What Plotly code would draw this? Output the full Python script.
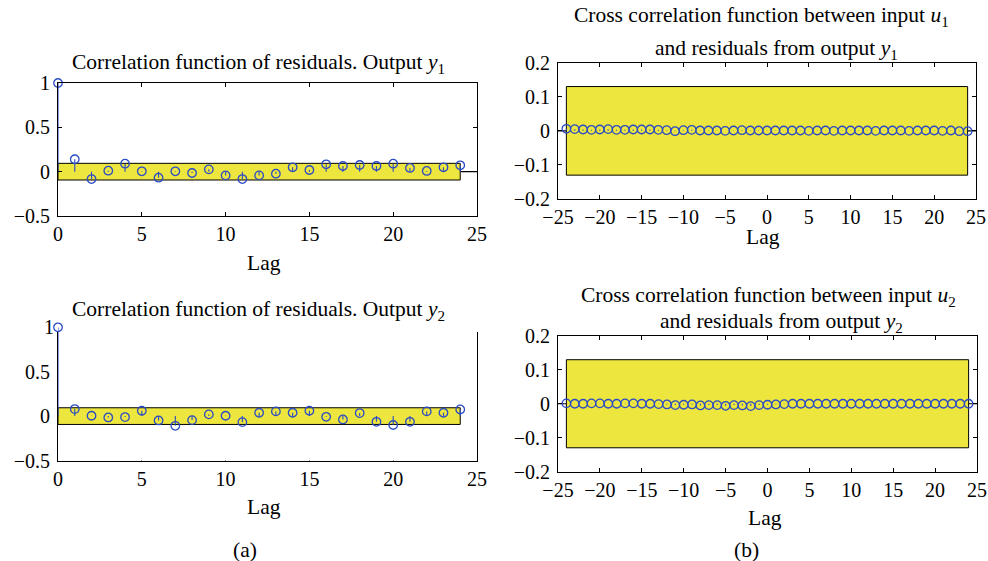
import plotly.graph_objects as go

# ---------------- data ----------------
lags_auto = list(range(0, 25))
resid_corr_y1 = [1.0, 0.14, -0.083, 0.011, 0.09, 0.004, -0.068, 0.004, -0.015, 0.026,
                 -0.042, -0.083, -0.042, -0.023, 0.049, 0.019, 0.083, 0.064, 0.075, 0.064,
                 0.09, 0.042, 0.008, 0.049, 0.072]
resid_corr_y2 = [1.0, 0.079, 0.004, -0.015, -0.011, 0.06, -0.049, -0.109, -0.045, 0.019,
                 0.004, -0.068, 0.038, 0.053, 0.038, 0.06, -0.008, -0.038, 0.034, -0.064,
                 -0.1, -0.064, 0.053, 0.038, 0.075]
conf_auto = 0.094

lags_cross = list(range(-24, 25))
cross_u1_y1 = [0.006, 0.005, 0.004, 0.003, 0.004, 0.005, 0.003, 0.003, 0.004, 0.004,
               0.004, 0.003, 0.002, -0.001, 0.002, 0.003, 0.001, 0.001, 0.001, 0.000,
               0.001, 0.002, 0.001, 0.001, 0.001, 0.001, 0.001, 0.001, 0.001, 0.000,
               0.001, 0.001, 0.000, 0.001, 0.001, 0.001, 0.001, 0.000, 0.001, 0.001,
               0.001, 0.000, 0.001, 0.001, 0.001, 0.000, 0.001, -0.001, -0.001]
cross_u2_y2 = [0.001, 0.000, 0.000, 0.001, 0.001, 0.000, 0.000, 0.001, 0.001, 0.000,
               0.000, -0.001, -0.002, -0.004, -0.003, -0.002, -0.005, -0.004, -0.004, -0.006,
               -0.004, -0.005, -0.007, -0.004, -0.003, -0.002, -0.001, 0.000, 0.000, 0.000,
               0.000, 0.000, 0.000, 0.000, 0.000, 0.000, 0.000, 0.000, 0.000, 0.000,
               0.000, 0.000, 0.000, 0.000, 0.000, 0.000, 0.000, 0.000, 0.000]
conf_cross = 0.13

ticks_auto_x = [0, 5, 10, 15, 20, 25]
ticks_auto_y = [-0.5, 0, 0.5, 1]
ticks_cross_x = [-25, -20, -15, -10, -5, 0, 5, 10, 15, 20, 25]
ticks_cross_y = [-0.2, -0.1, 0, 0.1, 0.2]

titles_a = ["Correlation function of residuals. Output <i>y</i><sub>1</sub>",
            "Correlation function of residuals. Output <i>y</i><sub>2</sub>"]
titles_b = [["Cross correlation function between input <i>u</i><sub>1</sub>",
             "and residuals from output <i>y</i><sub>1</sub>"],
            ["Cross correlation function between input <i>u</i><sub>2</sub>",
             "and residuals from output <i>y</i><sub>2</sub>"]]

# ---------------- styling ----------------
W, H = 988, 561
FONT = "Liberation Serif"
BLUE = "#2b4bc4"
YELLOW = "#ede63f"
TICKFONT = dict(family=FONT, size=20, color="black")
TEXTFONT = dict(family=FONT, size=21.5, color="black")


def px(x):
    return x / W


def py(y):
    return 1 - y / H


fig = go.Figure()
shapes = []
layout_axes = {}

box_axis = dict(showline=True, linecolor="black", linewidth=1, mirror="ticks",
                ticks="inside", ticklen=4, tickcolor="black", showgrid=False,
                zeroline=False, tickfont=TICKFONT, automargin=False)


def add_panel(xs, ys, conf, s, xdom, ydom, xr, yr, xt, yt, data_s=None, data_ydom=None,
              data_yr=None, extra_yticks=None):
    """s: suffix of the visible box axes; data_s: suffix of axes holding the data."""
    xa, ya = "x" + s, "y" + s
    layout_axes["xaxis" + s] = dict(domain=[px(xdom[0]), px(xdom[1])], range=xr, anchor=ya,
                                    tickvals=xt, **box_axis)
    layout_axes["yaxis" + s] = dict(domain=[py(ydom[1]), py(ydom[0])], range=yr, anchor=xa,
                                    tickvals=yt, ticklabelstandoff=3, **box_axis)
    if data_s is None:
        dxa, dya = xa, ya
    else:
        dxa, dya = "x" + data_s, "y" + data_s
        hidden = dict(showline=False, showgrid=False, zeroline=False, automargin=False)
        layout_axes["xaxis" + data_s] = dict(domain=[px(xdom[0]), px(xdom[1])], range=xr,
                                             anchor=dya, showticklabels=False, ticks="",
                                             **hidden)
        layout_axes["yaxis" + data_s] = dict(domain=[py(ydom[1]), py(data_ydom)], range=data_yr,
                                             anchor=dxa, tickvals=extra_yticks, ticks="",
                                             tickfont=TICKFONT, ticklabelstandoff=3, **hidden)
        # keep the box subplot alive
        fig.add_trace(go.Scatter(x=[None], y=[None], xaxis=xa, yaxis=ya, showlegend=False))

    # confidence band and zero line
    shapes.append(dict(type="rect", xref=dxa, yref=dya, x0=xs[0], x1=xs[-1], y0=-conf, y1=conf,
                       fillcolor=YELLOW, line=dict(color="black", width=1), layer="below"))
    shapes.append(dict(type="line", xref=xa + " domain", yref=dya, x0=0, x1=1, y0=0, y1=0,
                       line=dict(color="black", width=1.2), layer="below"))
    # stems
    sx, sy = [], []
    for x, y in zip(xs, ys):
        sx += [x, x, None]
        sy += [0, y, None]
    fig.add_trace(go.Scatter(x=sx, y=sy, mode="lines", xaxis=dxa, yaxis=dya,
                             line=dict(color=BLUE, width=1.1), hoverinfo="skip",
                             showlegend=False))
    fig.add_trace(go.Scatter(x=xs, y=ys, mode="markers", xaxis=dxa, yaxis=dya,
                             marker=dict(symbol="circle-open", size=8.5, color=BLUE,
                                         line=dict(color=BLUE, width=1.3)),
                             cliponaxis=False, showlegend=False))


add_panel(lags_auto, resid_corr_y1, conf_auto, "", (58, 477), (83, 216), [0, 25], [-0.5, 1.0],
          ticks_auto_x, ticks_auto_y)
add_panel(lags_auto, resid_corr_y2, conf_auto, "3", (58, 477), (332.7, 460.5), [0, 25],
          [-0.5, 0.94], ticks_auto_x, ticks_auto_y[:3],
          data_s="5", data_ydom=327.3, data_yr=[-0.5, 1.0], extra_yticks=ticks_auto_y[3:])
add_panel(lags_cross, cross_u1_y1, conf_cross, "2", (558, 976), (62.7, 199), [-25, 25],
          [-0.2, 0.2], ticks_cross_x, ticks_cross_y)
add_panel(lags_cross, cross_u2_y2, conf_cross, "4", (558, 977), (336, 471.5), [-25, 25],
          [-0.2, 0.2], ticks_cross_x, ticks_cross_y)

fig.update_layout(**layout_axes)

ann = [
    dict(text=titles_a[0], x=px(258), y=py(63)),
    dict(text=titles_a[1], x=px(258), y=py(310)),
    dict(text=titles_b[0][0], x=px(761), y=py(16)),
    dict(text=titles_b[0][1], x=px(776), y=py(49)),
    dict(text=titles_b[1][0], x=px(768), y=py(296)),
    dict(text=titles_b[1][1], x=px(781), y=py(322)),
    dict(text="Lag", x=px(264), y=py(263)),
    dict(text="Lag", x=px(264), y=py(507)),
    dict(text="Lag", x=px(763), y=py(237)),
    dict(text="Lag", x=px(765), y=py(518)),
    dict(text="(a)", x=px(245), y=py(550)),
    dict(text="(b)", x=px(746), y=py(550)),
]
annotations = [dict(a, xref="paper", yref="paper", xanchor="center", yanchor="middle",
                    showarrow=False, font=TEXTFONT) for a in ann]

fig.update_layout(width=W, height=H, margin=dict(l=0, r=0, t=0, b=0, pad=0),
                  paper_bgcolor="white", plot_bgcolor="white",
                  shapes=shapes, annotations=annotations, showlegend=False)

# remove the browser's default page margin so the figure fills the window exactly
fig.write_html("out.html",
               config={"displayModeBar": False},
               post_script="document.body.style.margin='0';"
                           "document.body.style.overflow='hidden';")
